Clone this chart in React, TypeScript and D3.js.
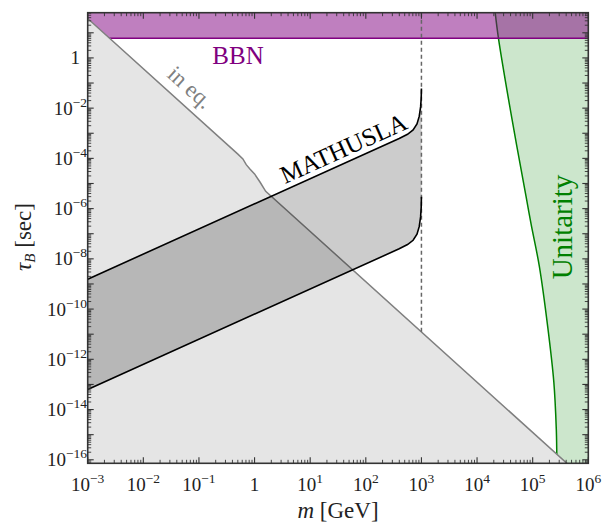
import React from 'react';
import * as d3 from 'd3';

// ---------- data (log10 units) ----------
const xTickExps = [-3, -2, -1, 0, 1, 2, 3, 4, 5, 6];
const yLabelExps = [0, -2, -4, -6, -8, -10, -12, -14, -16];
const xDomainExp = [-3, 6];
const yDomainExp = [-16.14, 1.8];

const bbnTauExp = 0.78;
const massCutExp = 3;

// [log10 m, log10 tau]
const inEqCurve: [number, number][] = [
  [-3, 1.57], [-0.3, -3.83], [-0.21, -4.02], [-0.15, -4.25], [-0.08, -4.43],
  [0, -4.62], [0.1, -4.95], [0.2, -5.31], [6, -16.91],
];
const mathuslaUpper: [number, number][] = [
  [-3, -8.81], [2.6, -3.21], [2.75, -3.04], [2.85, -2.87], [2.92, -2.63],
  [2.96, -2.33], [2.985, -1.95], [2.996, -1.6], [3.0, -1.22],
];
const mathuslaLower: [number, number][] = [
  [-3, -13.2], [2.6, -7.6], [2.75, -7.43], [2.85, -7.26], [2.92, -7.02],
  [2.96, -6.72], [2.985, -6.33], [2.996, -5.95], [3.0, -5.53],
];
const unitarityCurve: [number, number][] = [
  [4.326, 1.8], [4.385, 0.78], [4.626, -2.41], [4.88, -5.5], [4.97, -6.6],
  [5.12, -8.3], [5.27, -10.7], [5.38, -12.9], [5.425, -14.8], [5.435, -15.9], [5.44, -16.14],
];

const W = 602, H = 525;
const L = 87.7, R = 588.3, T = 12.7, B = 463.3;
const FONT = '"Liberation Serif", "DejaVu Serif", serif';

const p10 = (e: number) => Math.pow(10, e);

export default function App() {
  const x = d3.scaleLog().domain(xDomainExp.map(p10)).range([L, R]);
  const y = d3.scaleLog().domain(yDomainExp.map(p10)).range([B, T]);
  const line = d3.line<[number, number]>().x(d => x(p10(d[0]))).y(d => y(p10(d[1])));
  const smooth = d3.line<[number, number]>().x(d => x(p10(d[0]))).y(d => y(p10(d[1]))).curve(d3.curveCatmullRom.alpha(0.5));
  const area = (pts: [number, number][]) => line(pts) + 'Z';

  const yMin = p10(yDomainExp[0]), yMax = p10(yDomainExp[1]);

  const xMajor = xTickExps.map(p10);
  const xMinor: number[] = [];
  for (let d = -3; d < 6; d++) for (let k = 2; k <= 9; k++) xMinor.push(k * p10(d));
  const yMajor: number[] = [];
  const yMinor: number[] = [];
  for (let d = -17; d <= 1; d++) {
    if (p10(d) >= yMin && p10(d) <= yMax) yMajor.push(p10(d));
    for (let k = 2; k <= 9; k++) { const v = k * p10(d); if (v >= yMin && v <= yMax) yMinor.push(v); }
  }

  const uniPath = smooth(unitarityCurve)!;
  const uniArea = uniPath + `L${x(p10(6)) + 5},${B + 5}L${x(p10(6)) + 5},${T - 5}Z`;
  const inEqArea: [number, number][] = [...inEqCurve, [6, -20], [-3, -20]];
  const mathuslaArea: [number, number][] = [...mathuslaUpper, ...[...mathuslaLower].reverse()];
  const bbnArea: [number, number][] = [[-3, bbnTauExp], [6, bbnTauExp], [6, yDomainExp[1]], [-3, yDomainExp[1]]];

  const last = inEqCurve[inEqCurve.length - 2];
  const cutTauExp = last[1] - 2 * (massCutExp - last[0]);

  const tickColor = '#333';

  return (
    <svg width={W} height={H} style={{ position: 'absolute', left: 0, top: 0, background: '#fff' }} fontFamily={FONT}>
      <defs>
        <clipPath id="plot"><rect x={L} y={T} width={R - L} height={B - T} /></clipPath>
      </defs>
      <g clipPath="url(#plot)">
        <path d={uniArea} fill="rgba(0,128,0,0.2)" />
        <path d={uniPath} fill="none" stroke="#008000" strokeWidth={1.5} />
        <path d={area(bbnArea)} fill="rgba(128,0,128,0.5)" />
        <line x1={L} x2={R} y1={y(p10(bbnTauExp))} y2={y(p10(bbnTauExp))} stroke="#800080" strokeWidth={1.6} />
        <path d={area(inEqArea)} fill="#e5e5e5" />
        <path d={line(inEqCurve)!} fill="none" stroke="#808080" strokeWidth={1.5} />
        <path d={area(mathuslaArea)} fill="rgba(0,0,0,0.2)" />
        <line x1={x(p10(massCutExp))} x2={x(p10(massCutExp))} y1={T} y2={y(p10(cutTauExp))}
          stroke="#666" strokeWidth={1.5} strokeDasharray="4,3" />
        <path d={line(mathuslaUpper)!} fill="none" stroke="#000" strokeWidth={1.6} />
        <path d={line(mathuslaLower)!} fill="none" stroke="#000" strokeWidth={1.6} />
      </g>

      <text x={238} y={64} fontSize={25} fill="#800080" textAnchor="middle">BBN</text>
      <text transform="translate(185,93) rotate(42)" fontSize={23} fill="#808080" textAnchor="middle">in eq.</text>
      <text transform="translate(347,156) rotate(-24.3)" fontSize={25} fill="#000" textAnchor="middle">MATHUSLA</text>
      <text transform="translate(572,227) rotate(-90)" fontSize={29} fill="#008000" textAnchor="middle">Unitarity</text>

      <rect x={L} y={T} width={R - L} height={B - T} fill="none" stroke={tickColor} strokeWidth={1.6} />
      {xMajor.map((v, i) => (
        <g key={'xM' + i} stroke={tickColor} strokeWidth={1.1}>
          <line x1={x(v)} x2={x(v)} y1={B} y2={B - 6} />
          <line x1={x(v)} x2={x(v)} y1={T} y2={T + 6} />
        </g>
      ))}
      {xMinor.map((v, i) => (
        <g key={'xm' + i} stroke={tickColor} strokeWidth={0.9}>
          <line x1={x(v)} x2={x(v)} y1={B} y2={B - 3.5} />
          <line x1={x(v)} x2={x(v)} y1={T} y2={T + 3.5} />
        </g>
      ))}
      {yMajor.map((v, i) => (
        <g key={'yM' + i} stroke={tickColor} strokeWidth={1.1}>
          <line x1={L} x2={L + 6} y1={y(v)} y2={y(v)} />
          <line x1={R} x2={R - 6} y1={y(v)} y2={y(v)} />
        </g>
      ))}
      {yMinor.map((v, i) => (
        <g key={'ym' + i} stroke={tickColor} strokeWidth={0.9}>
          <line x1={L} x2={L + 3.5} y1={y(v)} y2={y(v)} />
          <line x1={R} x2={R - 3.5} y1={y(v)} y2={y(v)} />
        </g>
      ))}

      {xTickExps.map(e => (
        <text key={'xl' + e} x={x(p10(e))} y={491} fontSize={19} textAnchor="middle" fill="#222">
          {e === 0 ? '1' : (<>10<tspan fontSize={13.5} dy={-8}>{e < 0 ? '\u2212' + (-e) : e}</tspan></>)}
        </text>
      ))}
      {yLabelExps.map(e => (
        <text key={'yl' + e} x={e === 0 ? 80 : 87} y={y(p10(e)) + 6.5} fontSize={19} textAnchor="end" fill="#222">
          {e === 0 ? '1' : (<>10<tspan fontSize={13.5} dy={-8}>{'\u2212' + (-e)}</tspan></>)}
        </text>
      ))}

      <text x={338} y={518} fontSize={23} textAnchor="middle" fill="#222">
        <tspan fontStyle="italic">m</tspan> [GeV]
      </text>
      <text transform="translate(31,237) rotate(-90)" fontSize={23} textAnchor="middle" fill="#222">
        <tspan fontStyle="italic">τ</tspan><tspan fontStyle="italic" fontSize={15} dy={4}>B</tspan><tspan dy={-4}> [sec]</tspan>
      </text>
    </svg>
  );
}
